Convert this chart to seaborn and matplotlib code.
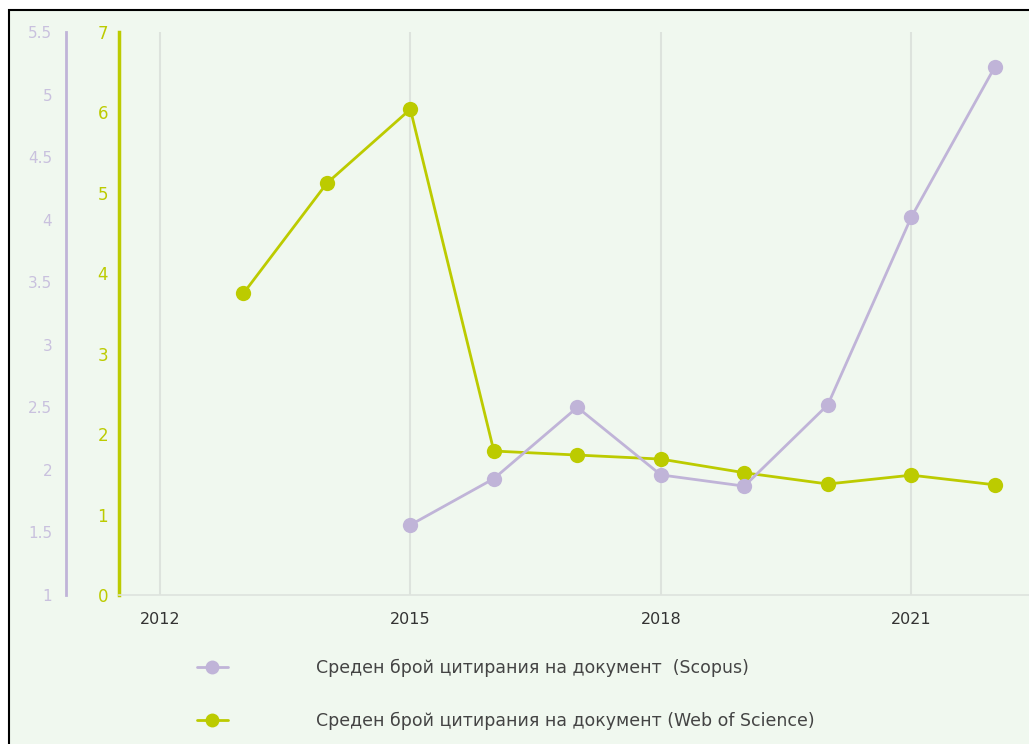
import pandas as pd
import numpy as np
import matplotlib
matplotlib.use("Agg")
import matplotlib.pyplot as plt
from matplotlib.patches import Rectangle
from matplotlib.lines import Line2D
import seaborn as sns

# Values
years_wos = [2013, 2014, 2015, 2016, 2017, 2018, 2019, 2020, 2021, 2022]
cit_wos = [3.75, 5.12, 6.04, 1.79, 1.74, 1.69, 1.52, 1.38, 1.49, 1.37]

years_scopus = [2015, 2016, 2017, 2018, 2019, 2020, 2021, 2022]
cit_scopus = [1.56, 1.93, 2.50, 1.96, 1.87, 2.52, 4.02, 5.22]

x_ticks = [2012, 2015, 2018, 2021]
wos_ticks = [0, 1, 2, 3, 4, 5, 6, 7]
scopus_ticks = [1, 1.5, 2, 2.5, 3, 3.5, 4, 4.5, 5, 5.5]
scopus_labels = ["1", "1.5", "2", "2.5", "3", "3.5", "4", "4.5", "5", "5.5"]

label_scopus = "Среден брой цитирания на документ  (Scopus)"
label_wos = "Среден брой цитирания на документ (Web of Science)"

PURPLE = "#c0b4d8"
PURPLE_TXT = "#c9c1de"
GREEN = "#bccb00"
BG = "#f0f8ef"
GRID = "#dde3dd"

sns.set_theme(style="white")
plt.rcParams['font.family'] = ['DejaVu Sans']

W, H = 1029, 744
fig = plt.figure(figsize=(W / 100, H / 100), dpi=100)
fig.patch.set_facecolor("white")

# framed background panel (screenshot crop)
fig.add_artist(Rectangle((9 / W, -0.05), 1.1, 1 - 10 / H + 0.05,
                         transform=fig.transFigure, facecolor=BG,
                         edgecolor="black", linewidth=1.5, zorder=0))

ax = fig.add_axes([119 / W, 1 - 595 / H, (1029 - 119) / W, (595 - 32) / H])
ax.set_facecolor("none")
ax2 = ax.twinx()
ax2.set_facecolor("none")

df_wos = pd.DataFrame({"year": years_wos, "value": cit_wos})
df_scopus = pd.DataFrame({"year": years_scopus, "value": cit_scopus})

sns.lineplot(data=df_wos, x="year", y="value", ax=ax, color=GREEN,
             marker="o", markersize=11, markeredgewidth=0, linewidth=2, zorder=3)
sns.lineplot(data=df_scopus, x="year", y="value", ax=ax2, color=PURPLE,
             marker="o", markersize=11, markeredgewidth=0, linewidth=2, zorder=3)

ax.set_xlim(2011.51, 2022.41)
ax.set_ylim(0, 7)
ax2.set_ylim(1, 5.5)

ax.set_xticks(x_ticks)
ax.set_xticklabels([str(t) for t in x_ticks], fontsize=11.5)
ax.set_yticks(wos_ticks)
ax.set_yticklabels([str(t) for t in wos_ticks], fontsize=12)
ax.tick_params(axis="x", length=0, pad=12, labelcolor="#333333")
ax.tick_params(axis="y", length=0, pad=8, labelcolor=GREEN)

ax2.yaxis.set_label_position("left")
ax2.yaxis.tick_left()
ax2.set_yticks(scopus_ticks)
ax2.set_yticklabels(scopus_labels, fontsize=11.5)
ax2.tick_params(axis="y", length=0, pad=10, labelcolor=PURPLE_TXT,
                labelleft=True, labelright=False)
ax2.spines["left"].set_position(("axes", -53 / 910))

ax.xaxis.grid(True, color=GRID, linewidth=1.5)
ax.yaxis.grid(False)
ax2.grid(False)

for s in ["top", "right"]:
    ax.spines[s].set_visible(False)
    ax2.spines[s].set_visible(False)
ax2.spines["bottom"].set_visible(False)
ax.spines["bottom"].set_color(GRID)
ax.spines["bottom"].set_linewidth(1.2)
ax.spines["left"].set_color(GREEN)
ax.spines["left"].set_linewidth(2.5)
ax2.spines["left"].set_color(PURPLE)
ax2.spines["left"].set_linewidth(2)

ax.set_xlabel("")
ax.set_ylabel("")
ax2.set_xlabel("")
ax2.set_ylabel("")

handles = [
    Line2D([], [], color=PURPLE, marker="o", markersize=10, markeredgewidth=0, linewidth=2),
    Line2D([], [], color=GREEN, marker="o", markersize=10, markeredgewidth=0, linewidth=2),
]
fig.legend(handles, [label_scopus, label_wos], loc="upper left",
           bbox_to_anchor=(197 / W, 1 - 658.5 / H), frameon=False,
           fontsize=12.5, handlelength=1.78, handletextpad=5.05,
           labelspacing=2.02, borderpad=0, borderaxespad=0, labelcolor="#444444")

fig.savefig("out.png", dpi=100, facecolor=fig.get_facecolor())
